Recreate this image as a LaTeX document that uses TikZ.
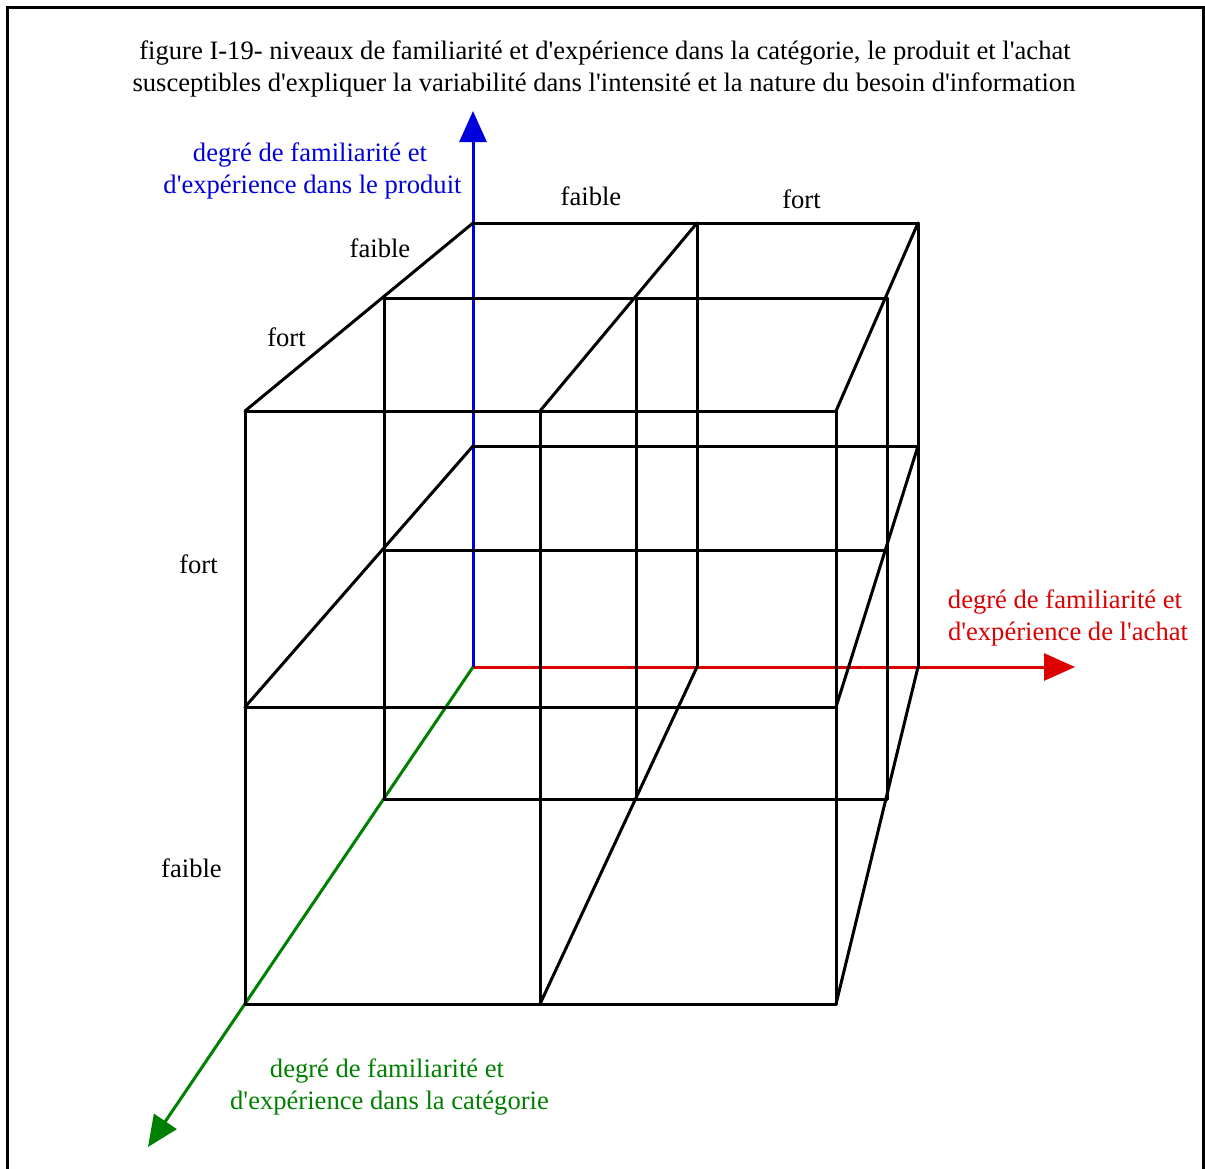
\documentclass[tikz,border=0pt]{standalone}
\usepackage{fontspec}
\setmainfont{Liberation Serif}[Ligatures=TeXOff]
\usetikzlibrary{arrows.meta}
\definecolor{axblue}{RGB}{0,0,220}
\definecolor{axred}{RGB}{220,0,0}
\definecolor{axgreen}{RGB}{0,128,0}
\tikzset{
  gridline/.style={draw=black,line width=3pt,line cap=round,line join=round},
  axisline/.style={line width=3pt,-{Triangle[length=31pt,width=27pt]}},
  lbl/.style={inner sep=0pt,anchor=base,font=\fontsize{26.6}{32}\selectfont},
}
\begin{document}
\begin{tikzpicture}[x=1pt,y=-1pt]
\useasboundingbox (0,0) rectangle (1205,1168);
\clip (0,0) rectangle (1205,1168);
\draw[line width=3pt] (7,7) rectangle (1203.5,1185);
% back face
\coordinate (B11) at (473,223); \coordinate (B12) at (697,223); \coordinate (B13) at (918,223);
\coordinate (B21) at (473,446); \coordinate (B22) at (697,446); \coordinate (B23) at (918,446);
\coordinate (B31) at (473,667); \coordinate (B32) at (697,667); \coordinate (B33) at (918,667);
% middle face
\coordinate (M11) at (384,298); \coordinate (M12) at (636,298); \coordinate (M13) at (887,298);
\coordinate (M21) at (384,550); \coordinate (M22) at (636,550); \coordinate (M23) at (887,550);
\coordinate (M31) at (384,799); \coordinate (M32) at (636,799); \coordinate (M33) at (887,799);
% front face
\coordinate (F11) at (245,411); \coordinate (F12) at (540,411); \coordinate (F13) at (836,411);
\coordinate (F21) at (245,707); \coordinate (F22) at (540,707); \coordinate (F23) at (836,707);
\coordinate (F31) at (245,1004); \coordinate (F32) at (540,1004); \coordinate (F33) at (836,1004);
% axis tips
\coordinate (Ytip) at (473,111);
\coordinate (Xtip) at (1075,667);
\coordinate (Ztip) at (148,1147);
% axes
\draw[axisline,draw=axred,fill=axred] (B31) -- (Xtip);
\draw[axisline,draw=axblue,fill=axblue] (B31) -- (Ytip);
\draw[axisline,draw=axgreen,fill=axgreen] (B31) -- (Ztip);
% grid: horizontals
\draw[gridline] (B11) -- (B13) (B21) -- (B23);
\draw[gridline] (M11) -- (M13) (M21) -- (M23) (M31) -- (M33);
\draw[gridline] (F11) -- (F13) (F21) -- (F23) (F31) -- (F33);
% grid: verticals
\draw[gridline] (B12) -- (B32) (B13) -- (B33);
\draw[gridline] (M11) -- (M31) (M12) -- (M32) (M13) -- (M33);
\draw[gridline] (F11) -- (F31) (F12) -- (F32) (F13) -- (F33);
% grid: depth lines
\draw[gridline] (F11) -- (B11) (F12) -- (B12) (F13) -- (B13);
\draw[gridline] (F21) -- (B21) (F23) -- (B23);
\draw[gridline] (F32) -- (B32) (F33) -- (B33);
% title
\node[lbl] (t1) at (605,59) {figure I-19- niveaux de familiarité et d'expérience dans la catégorie, le produit et l'achat};
\node[lbl] (t2) at (604,91) {susceptibles d'expliquer la variabilité dans l'intensité et la nature du besoin d'information};
% axis labels
\node[lbl,text=axblue] (yl1) at (310,161) {degré de familiarité et};
\node[lbl,text=axblue] (yl2) at (312.5,193) {d'expérience dans le produit};
\node[lbl,text=axred] (xl1) at (1065,608) {degré de familiarité et};
\node[lbl,text=axred] (xl2) at (1068,640) {d'expérience de l'achat};
\node[lbl,text=axgreen] (zl1) at (387,1077) {degré de familiarité et};
\node[lbl,text=axgreen] (zl2) at (389.5,1109) {d'expérience dans la catégorie};
% level labels
\node[lbl] (xa) at (591,205) {faible};
\node[lbl] (xb) at (801.5,208) {fort};
\node[lbl] (za) at (380,257) {faible};
\node[lbl] (zb) at (286.5,346) {fort};
\node[lbl] (ya) at (198.5,573) {fort};
\node[lbl] (yb) at (191.5,877) {faible};
\end{tikzpicture}
\end{document}
